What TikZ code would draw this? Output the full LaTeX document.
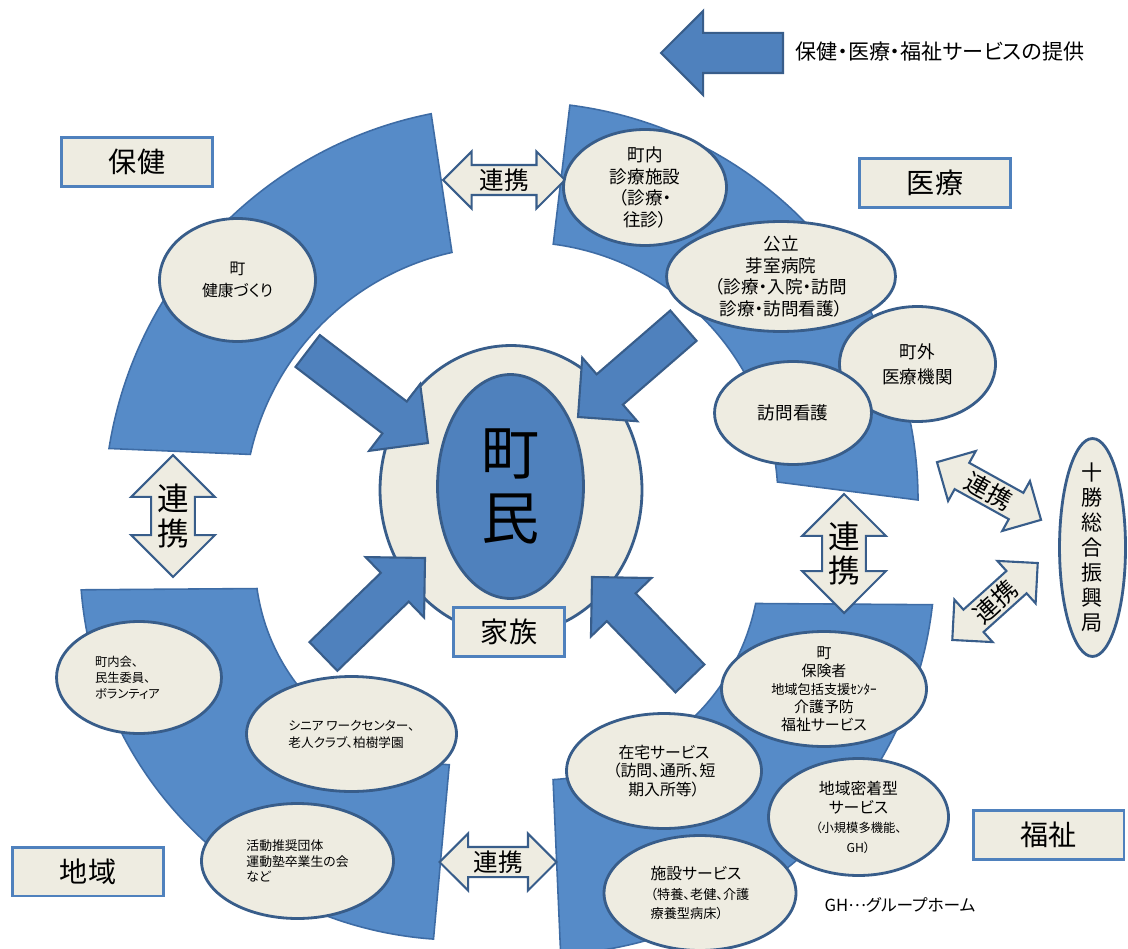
\documentclass[tikz,border=0pt]{standalone}
\usepackage{fontspec}
\setmainfont{Noto Sans CJK JP}[RawFeature=+palt]
\usepackage{xcolor}
\usetikzlibrary{shapes.geometric, shapes.arrows, positioning}
\definecolor{segblue}{RGB}{86,139,200}
\definecolor{segline}{RGB}{62,108,165}
\definecolor{arrblue}{RGB}{79,129,189}
\definecolor{arrline}{RGB}{56,93,138}
\definecolor{cream}{RGB}{238,236,225}
\definecolor{boxline}{RGB}{79,129,189}
\newcommand{\fs}[2]{\fontsize{#1}{#2}\selectfont}
\tikzset{
  seg/.style={fill=segblue, draw=segline, line width=0.9pt},
  lbl/.style={draw=boxline, fill=cream, line width=1.7pt, minimum width=3.02cm, minimum height=0.98cm, inner sep=0pt, font=\fs{16}{19}},
  ell/.style={ellipse, draw=arrline, fill=cream, line width=1.6pt, inner sep=0pt, align=center},
  inarrow/.style={single arrow, draw=arrline, fill=arrblue, line width=1.2pt, inner xsep=0pt, inner ysep=0.38cm, outer sep=0pt, single arrow head extend=0.44cm, anchor=tip},
  link/.style={double arrow, draw=arrline, fill=cream, line width=1.2pt, inner xsep=0pt, inner ysep=0pt, text height=0.47cm, text depth=0.09cm, double arrow head extend=0.27cm, font=\fs{14}{14}},
  linkv/.style={double arrow, rotate=90, draw=arrline, fill=cream, line width=1.2pt, inner xsep=0pt, inner ysep=0.1cm, double arrow head extend=0.4cm, font=\fs{18}{21}},
}

\begin{document}
\begin{tikzpicture}[x=0.02cm, y=0.02cm]
\path[use as bounding box, fill=white] (0,0) rectangle (1128,948);
\coordinate (cHoken) at (510,436);
\coordinate (cIryo) at (520,448);
\coordinate (cFukushi) at (540,388);
\coordinate (cChiiki) at (460,388);
% four quarters
\draw[seg] (cHoken) ++(101.2:406) arc[start angle=101.2, end angle=171, radius=406] -- ([shift={(167.5:266)}]cHoken) arc[start angle=167.5, end angle=102.6, radius=266] -- cycle;
\draw[seg] (cIryo) ++(82.8:398) arc[start angle=82.8, end angle=0, radius=398] -- ([shift={(4:258)}]cIryo) arc[start angle=4, end angle=82.6, radius=258] -- cycle;
\draw[seg] (cFukushi) ++(-6.5:395) arc[start angle=-6.5, end angle=-87, radius=395] -- ([shift={(-86.6:220)}]cFukushi) arc[start angle=-86.6, end angle=-11.4, radius=220] -- cycle;
\draw[seg] (cChiiki) ++(184.5:380) arc[start angle=184.5, end angle=266, radius=380] -- ([shift={(267:205)}]cChiiki) arc[start angle=267, end angle=188, radius=205] -- cycle;

\node[ell, minimum width=5.24cm, minimum height=5.78cm] (ring) at (511,458) {};
\node[inarrow, rotate=-37.4, minimum height=3.03cm] (arrHoken) at (428,505) {};
\node[inarrow, rotate=-139.1, minimum height=2.79cm] (arrIryo) at (578,531) {};
\node[inarrow, rotate=44.1, minimum height=2.83cm] (arrChiiki) at (425,390) {};
\node[inarrow, rotate=134, minimum height=2.82cm] (arrFukushi) at (592,371) {};
\node[ellipse, draw=arrline, fill=arrblue, line width=1.6pt, inner sep=0pt, align=center, minimum width=2.92cm, minimum height=4.48cm, font=\fs{33}{37}] (chomin) at (510.5,461.5) {町\\民};
\node[lbl, minimum width=2.22cm] (kazoku) at (509,316) {家族};

% renkei
\node[link, minimum height=2.44cm] (linkHI) at (504,768) {連携};
\node[link, minimum height=2.34cm] (linkCF) at (498,86) {連携};
\node[linkv, minimum height=2.44cm] (linkHC) at (173,432) {\rotatebox{-90}{\shortstack{連\\携}}};
\node[linkv, minimum height=2.38cm] (linkIF) at (844,394.5) {\rotatebox{-90}{\shortstack{連\\携}}};
\node[link, rotate=-29, minimum height=2.38cm] (linkIT) at (989,457) {連携};
\node[link, rotate=42, minimum height=2.30cm] (linkFT) at (995,346.5) {連携};

% hoken
\node[ell, minimum width=3.12cm, minimum height=2.46cm, font=\fs{9}{12.5}] (kenko) at (237.5,668) {町\\健康づくり};
% iryo
\node[ell, minimum width=3.26cm, minimum height=2.32cm, font=\fs{10}{12.2}] (shinryo) at (645,760.5) {町内\\診療施設\\（診療・\\往診）};
\node[ell, minimum width=4.58cm, minimum height=2.20cm, inner ysep=-1mm, font=\fs{10}{12.2}] (memuro) at (781,671.5) {公立\\芽室病院\\（診療・入院・訪問\\診療・訪問看護）};
\node[ell, minimum width=3.12cm, minimum height=2.30cm, font=\fs{10}{14.2}] (chogai) at (917.5,584) {町外\\医療機関};
\node[ell, minimum width=3.14cm, minimum height=2.06cm, font=\fs{10}{12}] (houmon) at (793,535) {訪問看護};
% fukushi
\node[ell, minimum width=4.10cm, minimum height=2.30cm, inner ysep=-1.5mm, font=\fs{8.5}{10.2}] (hokensha) at (824,259) {町\\保険者\\{\fs{7.5}{9}地域包括支援ｾﾝﾀｰ}\\介護予防\\福祉サービス};
\node[ell, minimum width=3.90cm, minimum height=2.30cm, font=\fs{9}{10.5}] (zaitaku) at (664,177) {在宅サービス\\（訪問、通所、短\\期入所等）};
\node[ell, minimum width=3.60cm, minimum height=2.34cm, font=\fs{9}{11}] (mitchaku) at (858.5,131) {地域密着型\\サービス\\{\fs{7}{9}（小規模多機能、}\\{\fs{7}{9}GH）}};
\node[ell, minimum width=3.84cm, minimum height=2.30cm, align=left, font=\fs{9}{11}] (shisetsu) at (700,55) {施設サービス\\{\fs{7.5}{9}（特養、老健、介護}\\{\fs{7.5}{9}療養型病床）}};
% chiiki
\node[ell, minimum width=3.30cm, minimum height=2.24cm, align=left, text width=1.76cm, font=\fs{7}{9}] (chonaikai) at (139,270.5) {町内会、\\民生委員、\\ボランティア};
\node[ell, minimum width=4.20cm, minimum height=2.30cm, align=left, font=\fs{7.2}{9.6}] (senior) at (351.5,214) {シニア ワークセンター、\\老人クラブ、柏樹学園};
\node[ell, minimum width=3.84cm, minimum height=2.30cm, align=left, font=\fs{7.3}{9}] (katsudo) at (297.5,87) {活動推奨団体\\運動塾卒業生の会\\など};

\node[ell, minimum width=1.32cm, minimum height=4.36cm, inner ysep=-2mm, font=\fs{12}{14.2}] (tokachi) at (1092.5,400.5) {十\\勝\\総\\合\\振\\興\\局};

\node[lbl] (hoken) at (137,786) {保健};
\node[lbl] (iryo) at (935,765) {医療};
\node[lbl] (chiiki) at (88,76.5) {地域};
\node[lbl] (fukushi) at (1048.5,113) {福祉};

% legend
\node[inarrow, rotate=180, minimum height=2.44cm] (arrLegend) at (661,895) {};
\node[anchor=west, inner sep=0pt, font=\fs{12}{14}] (legendTxt) at (795,896) {保健・医療・福祉サービスの提供};
\node[inner sep=0pt, font=\fs{9.5}{11}] (ghNote) at (900,43) {GH\raisebox{0.3em}{…}グループホーム};
\end{tikzpicture}
\end{document}
